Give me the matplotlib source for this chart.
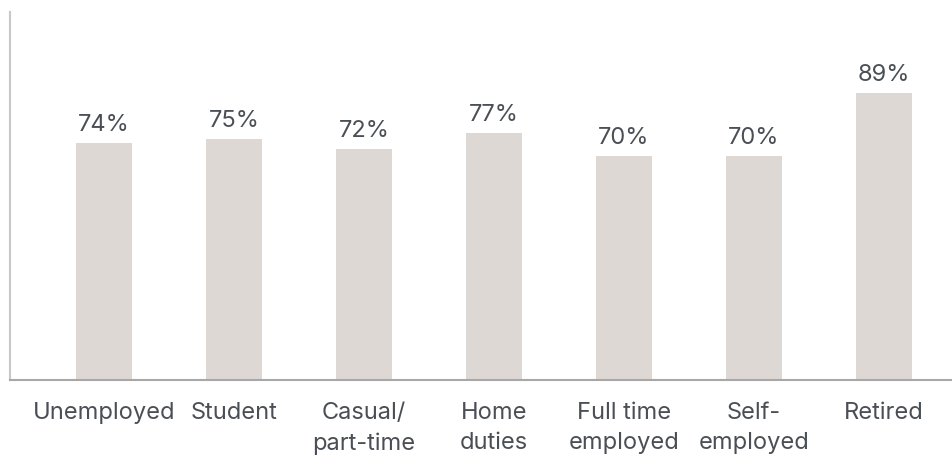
import matplotlib.pyplot as plt

categories = ['Unemployed', 'Student', 'Casual/\npart-time', 'Home\nduties',
              'Full time\nemployed', 'Self-\nemployed', 'Retired']
values = [74, 75, 72, 77, 70, 70, 89]

plt.rcParams['font.family'] = ['Inter', 'DejaVu Sans']
text_col = '#4a4f55'

fig = plt.figure(figsize=(9.53, 4.57), dpi=100)
ax = fig.add_axes([0.0105, 0.1685, 0.9895, 0.805])

x = list(range(len(categories)))
ax.bar(x, values, width=0.43, color='#ddd8d4')

for xi, v in zip(x, values):
    ax.annotate(f'{v}%', (xi, v), xytext=(0, 5), textcoords='offset points',
                ha='center', va='bottom', fontsize=17, color=text_col)

ax.set_xlim(-0.723, 6.531)
ax.set_ylim(2.4, 113.4)
ax.set_xticks(x)
ax.set_xticklabels(categories, fontsize=17, color=text_col, linespacing=1.45)
ax.tick_params(axis='x', length=0, pad=16)
ax.set_yticks([])

for s in ['top', 'right']:
    ax.spines[s].set_visible(False)
ax.spines['left'].set_color('#c8c8c8')
ax.spines['left'].set_linewidth(1.5)
ax.spines['bottom'].set_color('#a8a8a8')
ax.spines['bottom'].set_linewidth(1.5)

plt.savefig('out.png', dpi=100)
